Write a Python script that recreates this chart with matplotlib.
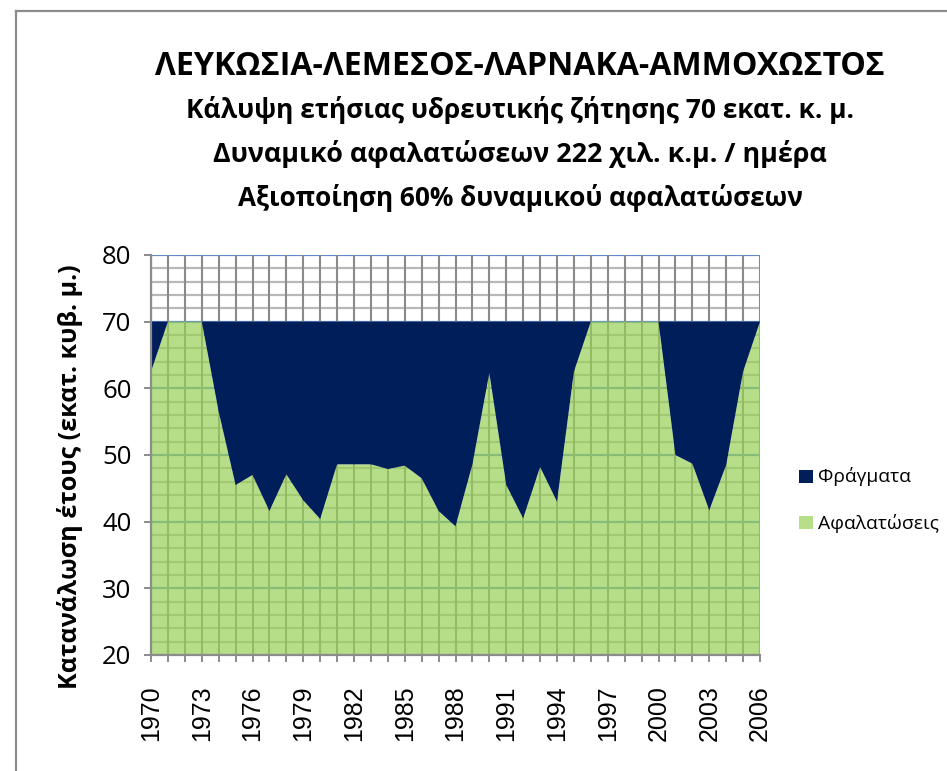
import matplotlib
matplotlib.use("Agg")
import matplotlib.pyplot as plt
from matplotlib.patches import Patch
from matplotlib.lines import Line2D

# ---------------- data ----------------
years = list(range(1970, 2007))
desal = [62.5, 70, 70, 70, 56.5, 45.5, 47.0, 41.6, 47.1, 43.2,
         40.4, 48.6, 48.6, 48.6, 47.9, 48.4, 46.5, 41.6, 39.3, 48.6,
         62.3, 45.5, 40.5, 48.2, 43.0, 62.5, 70, 70, 70, 70,
         70, 50.0, 48.7, 41.7, 48.5, 62.5, 70]
dams = [7.5, 0, 0, 0, 13.5, 24.5, 23.0, 28.4, 22.9, 26.8,
        29.6, 21.4, 21.4, 21.4, 22.1, 21.6, 23.5, 28.4, 30.7, 21.4,
        7.7, 24.5, 29.5, 21.8, 27.0, 7.5, 0, 0, 0, 0,
        0, 20.0, 21.3, 28.3, 21.5, 7.5, 0]
series_names = ["Αφαλατώσεις", "Φράγματα"]
title_lines = ["ΛΕΥΚΩΣΙΑ-ΛΕΜΕΣΟΣ-ΛΑΡΝΑΚΑ-ΑΜΜΟΧΩΣΤΟΣ",
               "Κάλυψη ετήσιας υδρευτικής ζήτησης 70 εκατ. κ. μ.",
               "Δυναμικό αφαλατώσεων 222 χιλ. κ.μ. / ημέρα",
               "Αξιοποίηση 60% δυναμικού αφαλατώσεων"]
ylabel = "Κατανάλωση έτους (εκατ. κυβ. μ.)"
label_years = list(range(1970, 2007, 3))

# ---------------- figure ----------------
W, H = 947, 771
fig = plt.figure(figsize=(W / 100, H / 100), dpi=100)
FONT = ["Open Sans", "DejaVu Sans"]

def px(x, y):
    return x / W, 1 - y / H

ax = fig.add_axes([151 / W, (H - 655) / H, 609 / W, 400 / H])

green = "#98D156"
navy = "#001E5A"
polys = ax.stackplot(years, desal, dams, colors=[green, navy], linewidth=0)
polys[0].set_alpha(0.7)
polys[0].set_zorder(2)
polys[1].set_zorder(3)

ax.set_xlim(1970, 2006)
ax.set_ylim(20, 80)

# grid
for v in range(20, 81, 2):
    if v % 10:
        ax.axhline(v, color="#B8B8B8", lw=1.6, zorder=0.5)
for v in range(20, 81, 10):
    ax.axhline(v, color="#5F8BC6", lw=1.6, zorder=0.6)
for yv in years:
    ax.axvline(yv, color="#8A8A8A", lw=1.5, zorder=0.7)

for s in ["top", "right"]:
    ax.spines[s].set_visible(False)
for s in ["left", "bottom"]:
    ax.spines[s].set_color("#8C8C8C")
    ax.spines[s].set_linewidth(1.6)
    ax.spines[s].set_zorder(5)

ax.set_yticks(range(20, 81, 10))
ax.tick_params(axis="y", direction="out", length=5, width=1.4, color="#8C8C8C", pad=9)
ax.set_yticklabels([str(v) for v in range(20, 81, 10)], fontfamily=FONT, fontsize=18.5)

ax.set_xticks(years)
ax.tick_params(axis="x", direction="out", length=5, width=1.4, color="#8C8C8C", pad=17)
ax.set_xticklabels([str(yv) if yv in label_years else "" for yv in years],
                   rotation=90, fontfamily=["Liberation Sans", "DejaVu Sans"], fontsize=18)

# titles
title_y = [75, 118, 162, 206]
title_w = [727, 668, 613, 566]
title_sizes = [22, 17, 17, 17]
ttexts = []
for line, yy, fs in zip(title_lines, title_y, title_sizes):
    ttexts.append(fig.text(*px(520, yy), line, ha="center", va="baseline",
                           fontsize=fs, fontweight="bold", fontfamily=FONT))

yl = fig.text(*px(70, 477), ylabel, rotation=90, ha="center", va="center",
              fontsize=16, fontweight="bold", fontfamily=FONT)

handles = [Patch(facecolor=navy, edgecolor="none", label=series_names[1]),
           Patch(facecolor="#B7DF89", edgecolor="none", label=series_names[0])]
leg = fig.legend(handles=handles, loc="center left", bbox_to_anchor=px(799, 500),
                 frameon=False, prop={"family": FONT, "size": 13},
                 handlelength=0.75, handleheight=0.75, handletextpad=0.3,
                 labelspacing=1.5, borderpad=0, borderaxespad=0)

# outer border (top and left)
fig.add_artist(Line2D([16 / W, 16 / W], [0, 1 - 11 / H], color="#8C8C8C", lw=1.6,
                      transform=fig.transFigure))
fig.add_artist(Line2D([16 / W, 1], [1 - 11 / H, 1 - 11 / H], color="#8C8C8C", lw=1.6,
                      transform=fig.transFigure))

# fit text sizes to the measured widths of the reference
fig.canvas.draw()
r = fig.canvas.get_renderer()
for t, tw in zip(ttexts, title_w):
    w = t.get_window_extent(r).width
    t.set_fontsize(t.get_fontsize() * tw / w)
h = yl.get_window_extent(r).height
yl.set_fontsize(yl.get_fontsize() * 425 / h)
lt = leg.get_texts()[1]
w = lt.get_window_extent(r).width
for t in leg.get_texts():
    t.set_fontsize(13 * 120 / w)

fig.savefig("out.png", dpi=100)
